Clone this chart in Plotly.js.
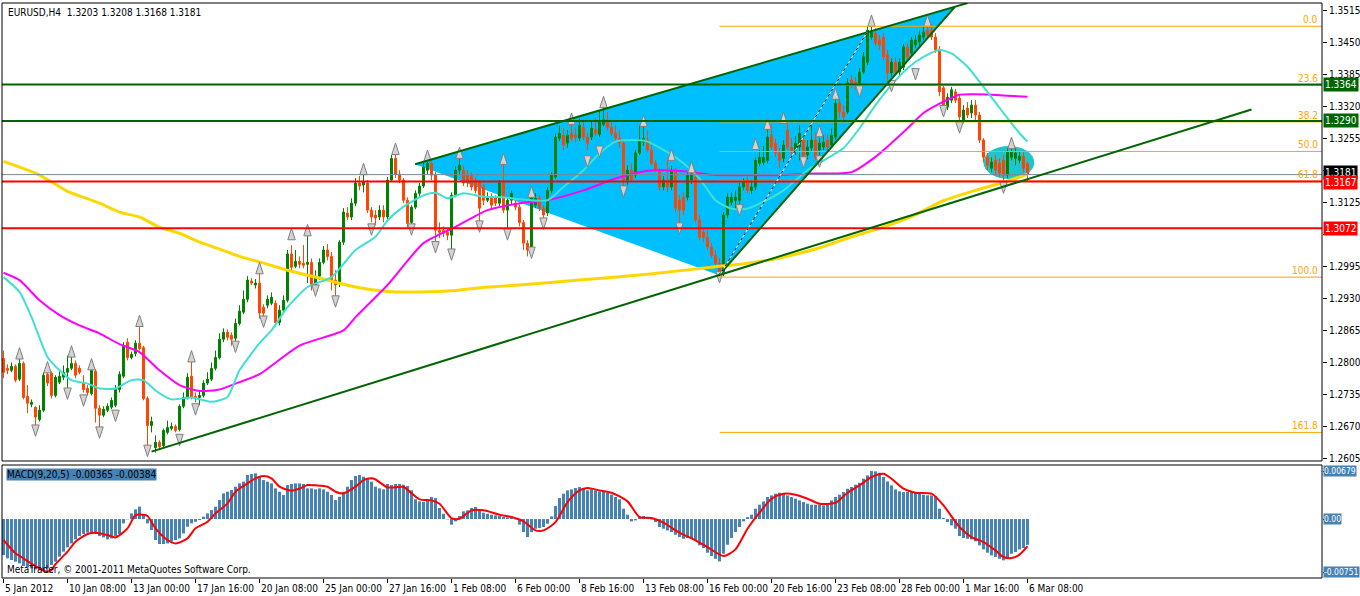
<!DOCTYPE html>
<html><head><meta charset="utf-8">
<script src="https://cdn.plot.ly/plotly-3.0.1.min.js"></script>
<style>html,body{margin:0;padding:0;background:#fff}#chart{width:1360px;height:596px}</style>
</head><body><div id="chart"></div>
<script>
// ---------- price data (EURUSD H4) ----------
const open = [
1.2808,1.2788,1.2784,1.2792,1.2766,1.2798,1.2731,1.2715,1.2709,1.2684,
1.2703,1.2776,1.2778,1.2733,1.2760,1.2770,1.2780,1.2788,1.2798,1.2788,
1.2758,1.2747,1.2737,1.2782,1.2707,1.2693,1.2703,1.2709,1.2713,1.2745,
1.2772,1.2841,1.2810,1.2818,1.2839,1.2830,1.2727,1.2672,1.2627,1.2638,
1.2631,1.2658,1.2666,1.2670,1.2664,1.2711,1.2729,1.2772,1.2731,1.2729,
1.2733,1.2758,1.2766,1.2788,1.2810,1.2847,1.2861,1.2855,1.2849,1.2879,
1.2902,1.2928,1.2965,1.2957,1.2961,1.2912,1.2916,1.2920,1.2920,1.2881,
1.2906,1.2926,1.3020,1.2995,1.3005,1.3001,1.2999,1.3003,1.2957,1.2975,
1.3003,1.3028,1.3015,1.2967,1.2961,1.3044,1.3103,1.3095,1.3123,1.3164,
1.3160,1.3164,1.3109,1.3099,1.3095,1.3109,1.3095,1.3170,1.3214,1.3182,
1.3170,1.3129,1.3084,1.3115,1.3143,1.3158,1.3190,1.3204,1.3180,1.3068,
1.3068,1.3064,1.3058,1.3139,1.3190,1.3190,1.3180,1.3180,1.3170,1.3166,
1.3156,1.3129,1.3135,1.3135,1.3123,1.3164,1.3109,1.3129,1.3123,1.3115,
1.3084,1.3042,1.3026,1.3119,1.3133,1.3113,1.3103,1.3149,1.3176,1.3255,
1.3261,1.3245,1.3265,1.3261,1.3255,1.3277,1.3257,1.3257,1.3273,1.3263,
1.3283,1.3292,1.3277,1.3265,1.3255,1.3245,1.3170,1.3190,1.3180,1.3225,
1.3247,1.3251,1.3231,1.3204,1.3190,1.3156,1.3170,1.3156,1.3190,1.3129,
1.3135,1.3135,1.3170,1.3176,1.3089,1.3064,1.3054,1.3034,1.3017,1.3001,
1.2983,1.3099,1.3125,1.3129,1.3129,1.3156,1.3170,1.3149,1.3156,1.3204,
1.3206,1.3210,1.3261,1.3245,1.3225,1.3214,1.3271,1.3237,1.3231,1.3237,
1.3251,1.3221,1.3235,1.3251,1.3231,1.3237,1.3251,1.3241,1.3257,1.3326,
1.3308,1.3308,1.3373,1.3369,1.3367,1.3389,1.3409,1.3460,1.3468,1.3454,
1.3460,1.3424,1.3387,1.3409,1.3389,1.3399,1.3440,1.3428,1.3444,1.3450,
1.3460,1.3474,1.3474,1.3460,1.3434,1.3357,1.3318,1.3332,1.3349,1.3336,
1.3292,1.3316,1.3306,1.3322,1.3302,1.3251,1.3216,1.3194,1.3210,1.3204,
1.3210,1.3180,1.3216,1.3214,1.3210,1.3218,1.3203];
const high = [
1.2824,1.2796,1.2800,1.2796,1.2810,1.2802,1.2754,1.2725,1.2711,1.2713,
1.2780,1.2784,1.2782,1.2774,1.2782,1.2794,1.2814,1.2814,1.2804,1.2794,
1.2774,1.2754,1.2788,1.2786,1.2713,1.2711,1.2717,1.2729,1.2754,1.2782,
1.2841,1.2849,1.2822,1.2845,1.2875,1.2834,1.2731,1.2690,1.2652,1.2642,
1.2666,1.2682,1.2678,1.2674,1.2715,1.2739,1.2778,1.2804,1.2739,1.2743,
1.2764,1.2780,1.2800,1.2824,1.2859,1.2869,1.2867,1.2861,1.2889,1.2916,
1.2946,1.2975,1.2971,1.2969,1.2983,1.2918,1.2936,1.2942,1.2926,1.2916,
1.2936,1.3028,1.3038,1.3028,1.3015,1.3038,1.3058,1.3011,1.2987,1.3011,
1.3036,1.3040,1.3024,1.2987,1.3048,1.3113,1.3115,1.3133,1.3174,1.3178,
1.3188,1.3170,1.3115,1.3109,1.3119,1.3119,1.3176,1.3221,1.3229,1.3190,
1.3174,1.3135,1.3119,1.3149,1.3164,1.3206,1.3214,1.3210,1.3186,1.3084,
1.3076,1.3072,1.3145,1.3198,1.3216,1.3200,1.3190,1.3186,1.3176,1.3170,
1.3162,1.3145,1.3143,1.3139,1.3170,1.3210,1.3137,1.3149,1.3129,1.3121,
1.3089,1.3048,1.3141,1.3143,1.3139,1.3119,1.3156,1.3186,1.3265,1.3281,
1.3275,1.3271,1.3290,1.3275,1.3295,1.3292,1.3265,1.3292,1.3295,1.3312,
1.3324,1.3308,1.3292,1.3281,1.3271,1.3251,1.3200,1.3204,1.3231,1.3281,
1.3285,1.3271,1.3241,1.3210,1.3194,1.3178,1.3214,1.3200,1.3194,1.3139,
1.3145,1.3186,1.3204,1.3190,1.3099,1.3072,1.3068,1.3042,1.3028,1.3011,
1.3105,1.3143,1.3145,1.3149,1.3164,1.3174,1.3178,1.3170,1.3216,1.3231,
1.3239,1.3275,1.3281,1.3255,1.3235,1.3251,1.3288,1.3255,1.3259,1.3281,
1.3261,1.3251,1.3292,1.3265,1.3255,1.3261,1.3261,1.3275,1.3336,1.3336,
1.3322,1.3377,1.3383,1.3379,1.3397,1.3430,1.3482,1.3484,1.3478,1.3464,
1.3468,1.3434,1.3417,1.3419,1.3417,1.3446,1.3448,1.3460,1.3464,1.3474,
1.3482,1.3486,1.3486,1.3468,1.3442,1.3363,1.3346,1.3359,1.3355,1.3342,
1.3322,1.3328,1.3332,1.3332,1.3308,1.3255,1.3225,1.3216,1.3221,1.3214,
1.3221,1.3235,1.3241,1.3235,1.3227,1.3227,1.3208];
const low = [
1.2768,1.2776,1.2780,1.2760,1.2762,1.2725,1.2697,1.2709,1.2662,1.2680,
1.2699,1.2752,1.2727,1.2729,1.2756,1.2764,1.2737,1.2784,1.2768,1.2776,
1.2739,1.2733,1.2733,1.2678,1.2658,1.2689,1.2699,1.2705,1.2709,1.2739,
1.2768,1.2804,1.2806,1.2812,1.2824,1.2723,1.2617,1.2658,1.2617,1.2623,
1.2627,1.2654,1.2662,1.2658,1.2660,1.2707,1.2725,1.2725,1.2719,1.2713,
1.2729,1.2754,1.2762,1.2784,1.2806,1.2841,1.2845,1.2834,1.2834,1.2875,
1.2898,1.2922,1.2957,1.2950,1.2889,1.2885,1.2910,1.2916,1.2873,1.2875,
1.2900,1.2922,1.2987,1.2991,1.2991,1.2991,1.2961,1.2946,1.2950,1.2967,
1.2999,1.3007,1.2946,1.2926,1.2953,1.3038,1.3089,1.3089,1.3117,1.3149,
1.3145,1.3103,1.3084,1.3078,1.3089,1.3084,1.3091,1.3166,1.3174,1.3164,
1.3123,1.3074,1.3078,1.3111,1.3137,1.3154,1.3182,1.3170,1.3038,1.3052,
1.3054,1.3048,1.3028,1.3135,1.3180,1.3158,1.3156,1.3149,1.3143,1.3078,
1.3119,1.3125,1.3113,1.3117,1.3117,1.3103,1.3062,1.3119,1.3109,1.3076,
1.3028,1.3015,1.3013,1.3113,1.3107,1.3087,1.3097,1.3143,1.3172,1.3249,
1.3231,1.3235,1.3249,1.3247,1.3249,1.3251,1.3231,1.3251,1.3259,1.3257,
1.3279,1.3271,1.3259,1.3249,1.3235,1.3153,1.3160,1.3166,1.3174,1.3221,
1.3239,1.3227,1.3200,1.3186,1.3149,1.3149,1.3145,1.3149,1.3105,1.3078,
1.3099,1.3129,1.3162,1.3084,1.3048,1.3044,1.3028,1.3011,1.2991,1.2973,
1.2975,1.3093,1.3119,1.3109,1.3113,1.3149,1.3143,1.3141,1.3149,1.3198,
1.3200,1.3204,1.3231,1.3217,1.3194,1.3206,1.3231,1.3214,1.3221,1.3210,
1.3210,1.3212,1.3227,1.3210,1.3210,1.3231,1.3231,1.3235,1.3251,1.3296,
1.3288,1.3304,1.3357,1.3353,1.3361,1.3385,1.3403,1.3454,1.3442,1.3434,
1.3413,1.3369,1.3379,1.3383,1.3383,1.3393,1.3413,1.3422,1.3438,1.3442,
1.3454,1.3458,1.3454,1.3428,1.3340,1.3308,1.3312,1.3326,1.3326,1.3281,
1.3285,1.3296,1.3296,1.3292,1.3245,1.3206,1.3190,1.3186,1.3180,1.3176,
1.3164,1.3174,1.3210,1.3200,1.3204,1.3186,1.3168];
const close = [
1.2780,1.2784,1.2792,1.2764,1.2798,1.2729,1.2717,1.2719,1.2689,1.2703,
1.2774,1.2758,1.2733,1.2770,1.2772,1.2780,1.2788,1.2798,1.2774,1.2780,
1.2745,1.2739,1.2784,1.2707,1.2693,1.2705,1.2711,1.2723,1.2745,1.2776,
1.2834,1.2810,1.2816,1.2839,1.2828,1.2727,1.2672,1.2680,1.2638,1.2629,
1.2662,1.2668,1.2670,1.2662,1.2711,1.2729,1.2770,1.2729,1.2727,1.2733,
1.2758,1.2766,1.2788,1.2810,1.2847,1.2861,1.2851,1.2847,1.2879,1.2904,
1.2928,1.2967,1.2961,1.2961,1.2900,1.2900,1.2928,1.2932,1.2881,1.2906,
1.2926,1.3020,1.2993,1.3005,1.2999,1.2997,1.3003,1.2957,1.2975,1.3003,
1.3028,1.3015,1.2967,1.2957,1.3044,1.3105,1.3095,1.3123,1.3164,1.3158,
1.3166,1.3109,1.3095,1.3093,1.3109,1.3095,1.3170,1.3214,1.3182,1.3170,
1.3129,1.3082,1.3115,1.3143,1.3158,1.3196,1.3204,1.3180,1.3068,1.3064,
1.3062,1.3058,1.3139,1.3190,1.3200,1.3164,1.3166,1.3156,1.3149,1.3113,
1.3129,1.3135,1.3119,1.3123,1.3164,1.3109,1.3129,1.3143,1.3115,1.3084,
1.3042,1.3028,1.3135,1.3133,1.3113,1.3099,1.3149,1.3180,1.3257,1.3265,
1.3241,1.3261,1.3255,1.3257,1.3281,1.3257,1.3245,1.3275,1.3265,1.3287,
1.3292,1.3277,1.3265,1.3255,1.3245,1.3170,1.3190,1.3170,1.3225,1.3251,
1.3255,1.3231,1.3204,1.3190,1.3156,1.3170,1.3156,1.3190,1.3113,1.3109,
1.3109,1.3180,1.3180,1.3089,1.3054,1.3054,1.3034,1.3017,1.3001,1.2983,
1.3099,1.3135,1.3135,1.3135,1.3156,1.3166,1.3149,1.3156,1.3210,1.3216,
1.3216,1.3257,1.3237,1.3225,1.3210,1.3241,1.3237,1.3227,1.3245,1.3265,
1.3216,1.3237,1.3251,1.3216,1.3245,1.3247,1.3237,1.3261,1.3326,1.3308,
1.3298,1.3367,1.3365,1.3365,1.3389,1.3420,1.3474,1.3470,1.3448,1.3444,
1.3420,1.3387,1.3409,1.3389,1.3409,1.3440,1.3420,1.3454,1.3454,1.3464,
1.3470,1.3464,1.3460,1.3434,1.3349,1.3318,1.3338,1.3353,1.3332,1.3298,
1.3312,1.3302,1.3322,1.3302,1.3251,1.3216,1.3200,1.3206,1.3190,1.3184,
1.3180,1.3227,1.3227,1.3225,1.3218,1.3194,1.3181];

// ---------- moving averages (bar index, value) ----------
const maYellowX = [0,8,12,16,24,29,34,39,44,49,54,59,64,71,80,88,96,104,113,121,129,144,161,178,186,194,203,211,219,227,235,243,251,256];
const maYellowY = [1.3208,1.3184,1.3166,1.3147,1.3123,1.3105,1.3095,1.3074,1.3062,1.3044,1.3030,1.3015,1.3004,1.2987,1.2969,1.2953,1.2944,1.2943,1.2946,1.2953,1.2957,1.2967,1.2979,1.2994,1.3001,1.3012,1.3030,1.3052,1.3072,1.3096,1.3128,1.3149,1.3168,1.3182];
const maMagentaX = [0,4,9,14,19,24,29,34,39,44,49,54,59,64,74,85,88,96,105,113,121,130,136,145,153,161,170,178,186,195,201,212,218,222,226,230,235,239,243,247,251,256];
const maMagentaY = [1.2982,1.2967,1.2926,1.2896,1.2875,1.2859,1.2837,1.2821,1.2784,1.2754,1.2742,1.2745,1.2760,1.2776,1.2834,1.2865,1.2892,1.2957,1.3042,1.3075,1.3109,1.3124,1.3129,1.3149,1.3173,1.3189,1.3188,1.3180,1.3180,1.3180,1.3183,1.3186,1.3217,1.3245,1.3275,1.3306,1.3329,1.3343,1.3344,1.3343,1.3341,1.3339];
const maCyanX = [0,4,7,11,14,17,21,24,28,32,35,38,42,47,52,56,59,64,67,71,76,82,88,93,96,100,105,108,111,115,120,125,129,136,140,145,149,153,157,161,165,170,174,178,182,186,190,195,201,210,214,218,222,226,230,234,237,241,245,250,254,256];
const maCyanY = [1.2973,1.2943,1.2892,1.2811,1.2784,1.2764,1.2757,1.2747,1.2747,1.2764,1.2764,1.2743,1.2725,1.2729,1.2720,1.2730,1.2784,1.2839,1.2865,1.2912,1.2953,1.2973,1.3028,1.3055,1.3088,1.3116,1.3139,1.3144,1.3133,1.3143,1.3136,1.3135,1.3131,1.3129,1.3156,1.3190,1.3224,1.3248,1.3251,1.3248,1.3231,1.3204,1.3173,1.3129,1.3112,1.3112,1.3126,1.3149,1.3190,1.3235,1.3275,1.3322,1.3363,1.3397,1.3420,1.3434,1.3427,1.3400,1.3359,1.3306,1.3265,1.3248];

// ---------- fractals ----------
const fracUpX = [4,11,17,22,34,47,64,72,76,90,98,106,114,125,132,142,150,160,167,172,188,191,195,204,208,217,231,252];
const fracUpY = [1.2830,1.2802,1.2834,1.2808,1.2896,1.2824,1.3003,1.3072,1.3080,1.3204,1.3245,1.3231,1.3237,1.3225,1.3158,1.3306,1.3340,1.3302,1.3233,1.3208,1.3255,1.3296,1.3308,1.3281,1.3357,1.3505,1.3505,1.3257];
const fracDnX = [8,16,20,24,28,36,44,48,58,65,78,83,92,102,108,112,119,126,132,135,146,149,155,169,179,184,200,204,214,222,228,235,239,250];
const fracDnY = [1.2650,1.2725,1.2711,1.2646,1.2680,1.2609,1.2631,1.2693,1.2820,1.2871,1.2934,1.2912,1.3058,1.3058,1.3022,1.3007,1.3064,1.3048,1.3011,1.3070,1.3196,1.3216,1.3135,1.3060,1.2961,1.3097,1.3194,1.3196,1.3338,1.3349,1.3373,1.3298,1.3265,1.3143];

// ---------- MACD(9,20,5) ----------
const macdMain = [
-0.00510,-0.00557,-0.00581,-0.00604,-0.00628,-0.00665,-0.00684,-0.00698,-0.00713,-0.00722,
-0.00735,-0.00698,-0.00651,-0.00604,-0.00533,-0.00462,-0.00401,-0.00345,-0.00288,-0.00241,
-0.00212,-0.00193,-0.00193,-0.00212,-0.00241,-0.00260,-0.00288,-0.00274,-0.00241,-0.00212,
-0.00061,-0.00005,0.00080,0.00137,0.00175,0.00057,-0.00061,-0.00156,-0.00297,-0.00354,
-0.00354,-0.00345,-0.00321,-0.00297,-0.00274,-0.00203,-0.00109,-0.00061,-0.00038,-0.00014,
0.00033,0.00080,0.00127,0.00175,0.00269,0.00363,0.00387,0.00411,0.00458,0.00505,
0.00529,0.00623,0.00637,0.00647,0.00599,0.00552,0.00529,0.00505,0.00434,0.00387,
0.00340,0.00481,0.00496,0.00505,0.00505,0.00496,0.00434,0.00434,0.00420,0.00434,
0.00420,0.00387,0.00340,0.00269,0.00316,0.00387,0.00458,0.00552,0.00609,0.00623,
0.00599,0.00576,0.00529,0.00458,0.00434,0.00420,0.00496,0.00481,0.00496,0.00496,
0.00486,0.00467,0.00406,0.00279,0.00250,0.00241,0.00279,0.00312,0.00297,0.00156,
0.00075,-0.00005,-0.00080,-0.00033,0.00042,0.00109,0.00123,0.00156,0.00170,0.00123,
0.00090,0.00075,0.00061,0.00052,0.00042,0.00028,0.00024,0.00024,-0.00005,-0.00080,
-0.00184,-0.00255,-0.00184,-0.00137,-0.00128,-0.00113,-0.00066,0.00038,0.00184,0.00297,
0.00359,0.00406,0.00420,0.00439,0.00453,0.00439,0.00406,0.00420,0.00406,0.00392,
0.00382,0.00373,0.00345,0.00312,0.00279,0.00146,0.00061,-0.00033,-0.00019,0.00042,
0.00042,0.00028,-0.00005,-0.00043,-0.00113,-0.00137,-0.00161,-0.00184,-0.00222,-0.00255,
-0.00279,-0.00269,-0.00279,-0.00302,-0.00373,-0.00411,-0.00477,-0.00524,-0.00562,-0.00600,
-0.00491,-0.00364,-0.00269,-0.00184,-0.00113,-0.00033,0.00028,0.00061,0.00146,0.00203,
0.00250,0.00312,0.00335,0.00359,0.00373,0.00359,0.00335,0.00312,0.00288,0.00264,
0.00241,0.00217,0.00203,0.00203,0.00203,0.00193,0.00203,0.00264,0.00312,0.00345,
0.00382,0.00429,0.00453,0.00486,0.00514,0.00571,0.00618,0.00679,0.00675,0.00656,
0.00595,0.00533,0.00477,0.00420,0.00392,0.00382,0.00382,0.00382,0.00373,0.00359,
0.00345,0.00335,0.00335,0.00326,0.00146,0.00014,-0.00043,-0.00090,-0.00137,-0.00241,
-0.00269,-0.00279,-0.00288,-0.00316,-0.00373,-0.00430,-0.00477,-0.00515,-0.00538,-0.00562,
-0.00585,-0.00552,-0.00491,-0.00467,-0.00430,-0.00411,-0.00365];
const macdSignalX = [0,3,5,8,10,11,12,13,16,18,21,23,26,28,31,33,35,36,38,41,43,46,48,51,53,56,58,61,63,65,67,69,72,74,76,78,81,83,85,88,90,92,93,96,98,100,104,107,109,112,114,117,120,124,127,130,133,135,138,141,144,146,149,152,156,159,162,165,169,173,176,180,183,186,189,192,195,198,201,204,208,211,214,217,220,222,225,228,232,235,239,242,245,248,250,252,254,256];
const macdSignalY = [-0.00297,-0.00486,-0.00557,-0.00665,-0.00730,-0.00748,-0.00720,-0.00640,-0.00462,-0.00321,-0.00212,-0.00193,-0.00227,-0.00260,-0.00132,0.00057,0.00060,0.00042,-0.00132,-0.00297,-0.00345,-0.00274,-0.00132,-0.00038,0.00080,0.00222,0.00387,0.00505,0.00576,0.00609,0.00576,0.00458,0.00401,0.00430,0.00481,0.00477,0.00458,0.00387,0.00363,0.00458,0.00552,0.00576,0.00560,0.00448,0.00450,0.00453,0.00279,0.00264,0.00217,0.00014,0.00005,0.00123,0.00123,0.00061,0.00028,-0.00033,-0.00161,-0.00161,-0.00043,0.00241,0.00406,0.00439,0.00406,0.00373,0.00250,0.00028,0.00014,-0.00052,-0.00194,-0.00302,-0.00397,-0.00524,-0.00430,-0.00137,0.00090,0.00288,0.00359,0.00345,0.00288,0.00217,0.00231,0.00373,0.00477,0.00595,0.00642,0.00571,0.00429,0.00373,0.00359,0.00193,-0.00113,-0.00255,-0.00326,-0.00444,-0.00538,-0.00552,-0.00505,-0.00384];

// ---------- objects / levels ----------
const priceTicks = [1.2605,1.2670,1.2735,1.2800,1.2865,1.2930,1.2995,1.3060,1.3125,1.3190,1.3255,1.3320,1.3385,1.3450,1.3515];
const priceTickText = ["1.2605","1.2670","1.2735","1.2800","1.2865","1.2930","1.2995","","1.3125","","1.3255","1.3320","1.3385","1.3450","1.3515"];
const greenLevels = [1.3364, 1.3290];
const redLevels = [1.3167, 1.3072];
const bidPrice = 1.3181;
const fibNames = ["0.0","23.6","38.2","50.0","61.8","100.0","161.8"];
const fibPrices = [1.3482,1.3362,1.3288,1.3228,1.3168,1.2973,1.2658];
const fibStartBar = 179;
const trendLowerX = [37.0, 312.0], trendLowerY = [1.2619, 1.3313];
const trendUpperX = [102.9, 241.0], trendUpperY = [1.3202, 1.3529];
const trendSteepX = [178.9, 237.8], trendSteepY = [1.2977, 1.3521];
const fiboRayX = [178.9, 215.9], fiboRayY = [1.2975, 1.3470];
const wedgeX = [102.9, 178.9, 237.8], wedgeY = [1.3202, 1.2977, 1.3521];
const ellipseX = [245.0, 257.7], ellipseY = [1.3172, 1.3239];
const xTickBars = [0,16,32,48,64,80,96,112,128,144,160,176,192,208,224,240,256];
const xTickLabels = ["5 Jan 2012","10 Jan 08:00","13 Jan 00:00","17 Jan 16:00","20 Jan 08:00","25 Jan 00:00","27 Jan 16:00","1 Feb 08:00","6 Feb 00:00","8 Feb 16:00","13 Feb 08:00","16 Feb 00:00","20 Feb 16:00","23 Feb 08:00","28 Feb 00:00","1 Mar 16:00","6 Mar 08:00"];
const macdLevels = [0.00679, 0, -0.00751];
const macdLevelText = ["0.00679","0.00","-0.00751"];

// ---------- build ----------
const FONT = "'DejaVu Sans Condensed','DejaVu Sans',sans-serif";
const idx = close.map((_, i) => i);
const XR = [-0.375, 329.625];
const MAIN_DOM = [0.2035, 1];
const MACD_DOM = [0, 0.1965];

const traces = [
  {type:'candlestick', x: idx, open, high, low, close, xaxis:'x', yaxis:'y',
   increasing:{line:{color:'#008000', width:1}, fillcolor:'#008000'},
   decreasing:{line:{color:'#FF4500', width:1}, fillcolor:'#FF4500'},
   whiskerwidth:0, hoverinfo:'skip'},
  {type:'scatter', mode:'lines', x: maYellowX, y: maYellowY, line:{color:'#FFD700', width:3, shape:'spline', smoothing:0.6}, hoverinfo:'skip'},
  {type:'scatter', mode:'lines', x: maMagentaX, y: maMagentaY, line:{color:'#FF00FF', width:2, shape:'spline', smoothing:0.6}, hoverinfo:'skip'},
  {type:'scatter', mode:'lines', x: maCyanX, y: maCyanY, line:{color:'#40E0D0', width:2, shape:'spline', smoothing:0.6}, hoverinfo:'skip'},
  {type:'scatter', mode:'markers', x: fracUpX, y: fracUpY, marker:{symbol:'arrow', size:12, angle:0, color:'#D3D3D3', line:{color:'#808080', width:1}}, hoverinfo:'skip'},
  {type:'scatter', mode:'markers', x: fracDnX, y: fracDnY, marker:{symbol:'arrow', size:12, angle:180, color:'#D3D3D3', line:{color:'#808080', width:1}}, hoverinfo:'skip'},
  {type:'bar', x: idx, y: macdMain, xaxis:'x', yaxis:'y2', width:0.75, marker:{color:'#4682B4', line:{width:0}}, hoverinfo:'skip'},
  {type:'scatter', mode:'lines', x: macdSignalX, y: macdSignalY, xaxis:'x', yaxis:'y2', line:{color:'#FF0000', width:2, shape:'spline', smoothing:0.7}, hoverinfo:'skip'}
];

const shapes = [];
shapes.push({type:'path', xref:'x', yref:'y', layer:'below', fillcolor:'#00BFFF', line:{width:0},
  path:`M ${wedgeX[0]},${wedgeY[0]} L ${wedgeX[1]},${wedgeY[1]} L ${wedgeX[2]},${wedgeY[2]} Z`});
shapes.push({type:'circle', xref:'x', yref:'y', layer:'below', fillcolor:'#1EC4CE', line:{width:0},
  x0: ellipseX[0], x1: ellipseX[1], y0: ellipseY[0], y1: ellipseY[1]});
fibPrices.forEach(p => shapes.push({type:'line', xref:'x', yref:'y', x0: fibStartBar, x1: XR[1], y0:p, y1:p, line:{color:'#FFA500', width:1}}));
shapes.push({type:'line', xref:'paper', yref:'y', x0:0, x1:1, y0:bidPrice, y1:bidPrice, line:{color:'#778899', width:1}});
greenLevels.forEach(p => shapes.push({type:'line', xref:'paper', yref:'y', x0:0, x1:1, y0:p, y1:p, line:{color:'#006400', width:2}}));
redLevels.forEach(p => shapes.push({type:'line', xref:'paper', yref:'y', x0:0, x1:1, y0:p, y1:p, line:{color:'#FF0000', width:2}}));
[[trendLowerX, trendLowerY],[trendUpperX, trendUpperY],[trendSteepX, trendSteepY]].forEach(([xs, ys]) =>
  shapes.push({type:'line', xref:'x', yref:'y', x0: xs[0], x1: xs[1], y0: ys[0], y1: ys[1], line:{color:'#006400', width:2}}));
shapes.push({type:'line', xref:'x', yref:'y', x0: fiboRayX[0], x1: fiboRayX[1], y0: fiboRayY[0], y1: fiboRayY[1], line:{color:'#FFFFFF', width:1}});
shapes.push({type:'line', xref:'x', yref:'y', x0: fiboRayX[0], x1: fiboRayX[1], y0: fiboRayY[0], y1: fiboRayY[1], line:{color:'#000000', width:1, dash:'dot'}});
shapes.push({type:'rect', xref:'paper', yref:'paper', x0:0, x1:1, y0:MAIN_DOM[0], y1:MAIN_DOM[1], line:{color:'#000', width:1}, fillcolor:'rgba(0,0,0,0)'});
shapes.push({type:'rect', xref:'paper', yref:'paper', x0:0, x1:1, y0:MACD_DOM[0], y1:MACD_DOM[1], line:{color:'#000', width:1}, fillcolor:'rgba(0,0,0,0)'});

const annotations = [];
annotations.push({xref:'paper', yref:'paper', x:0, y:1, xanchor:'left', yanchor:'top', xshift:4, yshift:-2, showarrow:false,
  text:'EURUSD,H4\u00a0\u00a01.3203 1.3208 1.3168 1.3181', font:{family:FONT, size:10, color:'#000'}});
annotations.push({xref:'paper', yref:'paper', x:0, y:MACD_DOM[1], xanchor:'left', yanchor:'top', xshift:4, yshift:-3, showarrow:false,
  text:'MACD(9,20,5) -0.00365 -0.00384', bgcolor:'#4682B4', borderpad:0, font:{family:FONT, size:10, color:'#000'}});
annotations.push({xref:'paper', yref:'paper', x:0, y:0, xanchor:'left', yanchor:'bottom', xshift:3, yshift:1, showarrow:false,
  text:'MetaTrader, \u00a9 2001-2011 MetaQuotes Software Corp.', font:{family:FONT, size:10, color:'#000'}});
fibPrices.forEach((p, i) => annotations.push({xref:'paper', yref:'y', x:1, y:p, xanchor:'right', yanchor:'bottom', xshift:-2, yshift:-1, showarrow:false,
  text: fibNames[i], font:{family:FONT, size:10, color:'#FFA500'}}));
const boxes = [[greenLevels[0],'#006400',0],[greenLevels[1],'#006400',0],[bidPrice,'#000000',2],[redLevels[0],'#FF0000',-1],[redLevels[1],'#FF0000',0]];
boxes.forEach(([p,c,s]) => annotations.push({xref:'paper', yref:'y', x:1, y:p, xanchor:'left', yanchor:'middle', xshift:1, yshift:s, showarrow:false,
  text: p.toFixed(4), bgcolor:c, borderpad:1, font:{family:FONT, size:10, color:'#FFFFFF'}}));
macdLevels.forEach((v, i) => annotations.push({xref:'paper', yref:'y2', x:1, y:v, xanchor:'left', yanchor:'middle', xshift:1, showarrow:false,
  text: macdLevelText[i], bgcolor:'#4682B4', borderpad:0, font:{family:FONT, size:8.5, color:'#FFFFFF'}}));
xTickBars.forEach((b, i) => annotations.push({xref:'x', yref:'paper', x:b, y:0, xanchor:'left', yanchor:'top', xshift:-1, yshift:-3, showarrow:false,
  text: xTickLabels[i], font:{family:FONT, size:10, color:'#000'}}));

const layout = {
  width:1360, height:596, margin:{l:2, r:38, t:3, b:18, pad:0},
  paper_bgcolor:'#FFFFFF', plot_bgcolor:'#FFFFFF', showlegend:false, bargap:0.25,
  xaxis:{range:XR, anchor:'y2', showgrid:false, zeroline:false, showline:false, ticks:'outside', ticklen:4, tickcolor:'#000',
         tickvals:xTickBars, showticklabels:false, rangeslider:{visible:false}, fixedrange:true},
  yaxis:{domain:MAIN_DOM, range:[1.2600, 1.35292], side:'right', anchor:'x', showgrid:false, zeroline:false, showline:false,
         ticks:'outside', ticklen:4, tickcolor:'#000', tickvals:priceTicks, ticktext:priceTickText,
         tickfont:{family:FONT, size:10, color:'#000'}, fixedrange:true},
  yaxis2:{domain:MACD_DOM, range:[-0.00835, 0.00765], side:'right', anchor:'x', showgrid:false, zeroline:false, showline:false,
          ticks:'outside', ticklen:4, tickcolor:'#000', tickvals:macdLevels, showticklabels:false, fixedrange:true},
  shapes, annotations
};

Plotly.newPlot('chart', traces, layout, {staticPlot:true, displayModeBar:false});
</script></body></html>
